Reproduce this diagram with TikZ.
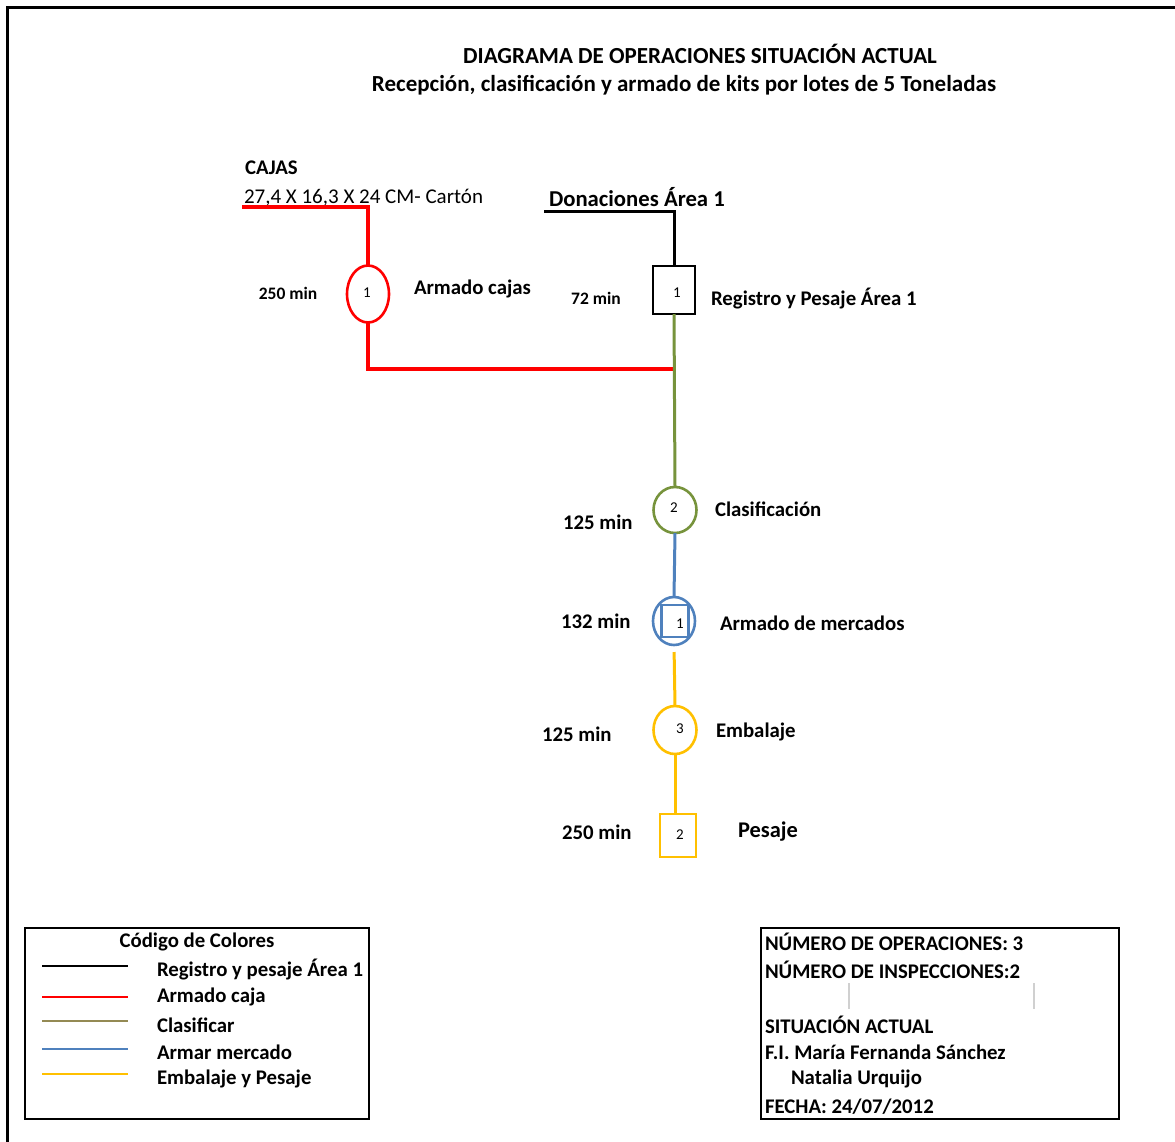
\documentclass[tikz,border=0pt]{standalone}
\usepackage{fontspec}
\setmainfont{Carlito}
\usetikzlibrary{shapes.geometric}
\definecolor{cred}{HTML}{FF0000}
\definecolor{cgreen}{HTML}{77933C}
\definecolor{colive}{HTML}{948A54}
\definecolor{cblue}{HTML}{4F81BD}
\definecolor{cyellow}{HTML}{FFC000}
\definecolor{cgray}{HTML}{D0D0D0}
\tikzset{
  every node/.style={inner sep=0pt, outer sep=0pt},
  ttl/.style={font=\fontsize{23}{26}\selectfont\bfseries},
  lbl/.style={font=\fontsize{20.8}{24}\selectfont\bfseries, anchor=west},
  tmin/.style={font=\fontsize{20.8}{24}\selectfont\bfseries, anchor=west},
  smin/.style={font=\fontsize{17.5}{20}\selectfont\bfseries},
  num/.style={font=\fontsize{15}{17}\selectfont},
  opell/.style={draw, ellipse, line width=2.6pt, minimum width=42pt, minimum height=56pt},
  opcirc/.style={draw, ellipse, line width=2.6pt, minimum width=43pt, minimum height=46pt},
  insp/.style={draw, rectangle, line width=2.6pt},
  flow/.style={line width=3pt},
  leg/.style={line width=2pt},
  info/.style={font=\fontsize{20.8}{24}\selectfont\bfseries, anchor=west},
}
\begin{document}
\begin{tikzpicture}[x=1pt,y=-1pt]
\useasboundingbox (0,0) rectangle (1175,1141);
% outer frame
\draw[line width=3pt] (7,1160) -- (7,7) -- (1190,7);
% titles
\node[ttl] (t1) at (700,54) {DIAGRAMA DE OPERACIONES SITUACIÓN ACTUAL};
\node[ttl] (t2) at (684,85) {Recepción, clasificación y armado de kits por lotes de 5 Toneladas};
% cajas
\node[lbl] (cajas) at (245,168) {CAJAS};
\node[font=\fontsize{21}{24}\selectfont, anchor=west] (dim) at (244,198) {27,4 X 16,3 X 24 CM- Cartón};
\coordinate (c0) at (242,207);
\node[opell, draw=cred, minimum width=42pt, minimum height=57pt] (arm) at (368,294) {};
\node[num] (arm1) at (367,293) {1};
\node[smin] (arm2) at (288,293) {250 min};
\node[lbl] (arm3) at (414,289) {Armado cajas};
% donaciones
\node[font=\fontsize{22.7}{26}\selectfont\bfseries, anchor=west] (don) at (549,197) {Donaciones Área 1};
\coordinate (d0) at (544,211);
\node[insp, minimum width=42pt, minimum height=48pt] (reg) at (674,290) {};
\node[num] (reg1) at (677,293) {1};
\node[smin] (reg2) at (596,298) {72 min};
\node[lbl] (reg3) at (711,299) {Registro y Pesaje Área 1};
% clasificacion
\node[opcirc, draw=cgreen] (cla) at (675,510) {};
\node[num] (cla1) at (674,508) {2};
\node[tmin] (cla2) at (563,522) {125 min};
\node[lbl] (cla3) at (715,509) {Clasificación};
% armado mercados
\node[opcirc, draw=cblue, minimum height=48pt, minimum width=42pt] (mer) at (674,621) {};
\node[insp, draw=cblue, line width=2.4pt, minimum width=27pt, minimum height=32pt] (merq) at (675,621) {};
\node[num] (mer1) at (680,624) {1};
\node[tmin] (mer2) at (561,621) {132 min};
\node[lbl] (mer3) at (720,623) {Armado de mercados};
% embalaje
\node[opcirc, draw=cyellow, minimum height=48pt] (emb) at (675,730) {};
\node[num] (emb1) at (680,729) {3};
\node[tmin] (emb2) at (542,734) {125 min};
\node[lbl] (emb3) at (716,732) {Embalaje};
% pesaje
\node[insp, draw=cyellow, minimum width=36pt, minimum height=43pt] (pes) at (678,835.5) {};
\node[num] (pes1) at (680,835) {2};
\node[tmin] (pes2) at (562,832) {250 min};
\node[font=\fontsize{22.4}{26}\selectfont\bfseries, anchor=west] (pes3) at (738,832) {Pesaje};
% connectors
\coordinate (j0) at (675,369);
\draw[flow, cred, line width=3.5pt] (c0) -| (arm.north);
\draw[flow, cred, line width=3.5pt] (arm.south) |- (j0);
\draw[flow, black] (d0) -| (reg.north);
\draw[flow, cgreen] (reg.south) -- (cla.north);
\draw[flow, cblue] (cla.south) -- (mer.north);
\draw[flow, cyellow, shorten <=7pt] (mer.south) -- (emb.north);
\draw[flow, cyellow] (emb.south) -- (emb.south |- pes.north);
% legend box
\node[draw, line width=2pt, minimum width=344pt, minimum height=191pt, anchor=north west] (legbox) at (25,928) {};
\node[font=\fontsize{20.8}{24}\selectfont\bfseries] (legt) at (197,942) {Código de Colores};
\coordinate (l1a) at (42,966); \coordinate (l1b) at (128,966);
\coordinate (l2a) at (42,997); \coordinate (l2b) at (128,997);
\coordinate (l3a) at (42,1021); \coordinate (l3b) at (128,1021);
\coordinate (l4a) at (42,1049); \coordinate (l4b) at (128,1049);
\coordinate (l5a) at (42,1074); \coordinate (l5b) at (128,1074);
\draw[leg, black] (l1a) -- (l1b);
\draw[leg, cred] (l2a) -- (l2b);
\draw[leg, colive] (l3a) -- (l3b);
\draw[leg, cblue] (l4a) -- (l4b);
\draw[leg, cyellow] (l5a) -- (l5b);
\node[lbl] (lg1) at (157,970) {Registro y pesaje Área 1};
\node[lbl] (lg2) at (157,997) {Armado caja};
\node[lbl] (lg3) at (157,1025) {Clasificar};
\node[lbl] (lg4) at (157,1052) {Armar mercado};
\node[lbl] (lg5) at (157,1079) {Embalaje y Pesaje};
% info box
\node[draw, line width=2pt, minimum width=358pt, minimum height=191pt, anchor=north west] (infobox) at (761,928) {};
\node[info] (i1) at (765,942) {NÚMERO DE OPERACIONES: 3};
\node[info] (i2) at (765,970) {NÚMERO DE INSPECCIONES:2};
\draw[cgray, line width=1.2pt] (849,983) -- (849,1009);
\draw[cgray, line width=1.2pt] (1034,983) -- (1034,1009);
\node[info] (i3) at (765,1025) {SITUACIÓN ACTUAL};
\node[info] (i4) at (765,1052) {F.I. María Fernanda Sánchez};
\node[info] (i5) at (791,1079) {Natalia Urquijo};
\node[info] (i6) at (765,1107) {FECHA: 24/07/2012};
\end{tikzpicture}
\end{document}
